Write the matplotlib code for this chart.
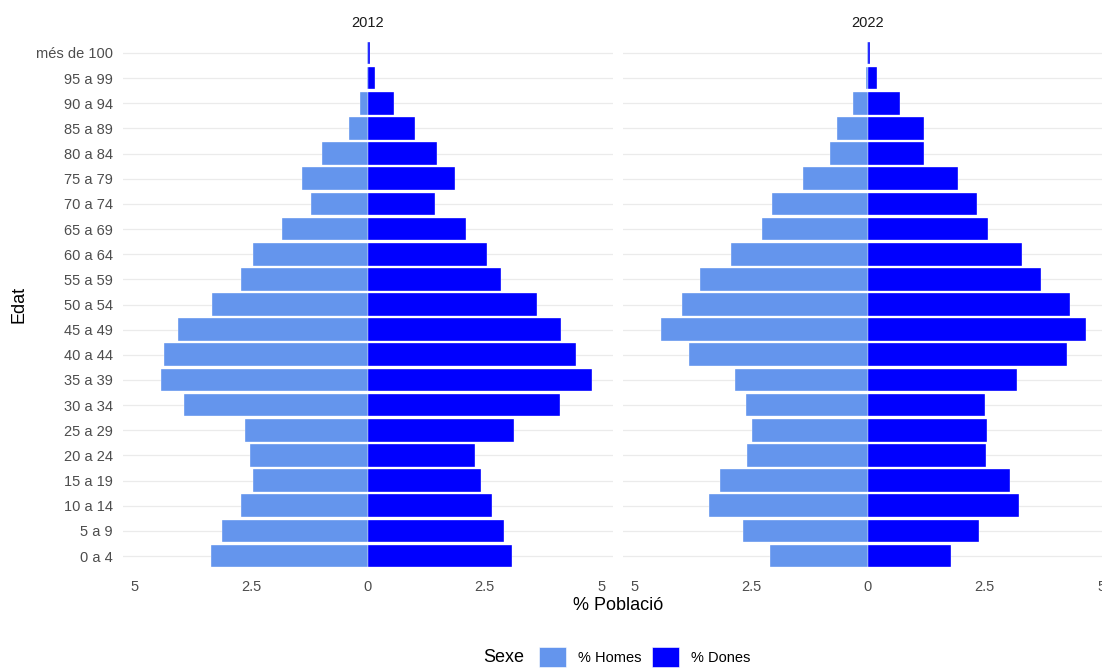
import matplotlib.pyplot as plt
from matplotlib.patches import Patch
import numpy as np

plt.rcParams['font.family'] = ['Liberation Sans', 'DejaVu Sans']

# grups d'edat, de baix a dalt
edats = ['0 a 4', '5 a 9', '10 a 14', '15 a 19', '20 a 24', '25 a 29',
         '30 a 34', '35 a 39', '40 a 44', '45 a 49', '50 a 54', '55 a 59',
         '60 a 64', '65 a 69', '70 a 74', '75 a 79', '80 a 84', '85 a 89',
         '90 a 94', '95 a 99', 'més de 100']

homes_2012 = [3.36, 3.12, 2.72, 2.46, 2.53, 2.64, 3.94, 4.42, 4.36, 4.06, 3.34,
              2.71, 2.46, 1.83, 1.21, 1.42, 0.99, 0.40, 0.16, 0.02, 0.01]
dones_2012 = [3.09, 2.91, 2.65, 2.42, 2.29, 3.12, 4.12, 4.79, 4.46, 4.13, 3.63,
              2.86, 2.56, 2.11, 1.44, 1.86, 1.49, 1.02, 0.55, 0.16, 0.05]
homes_2022 = [2.09, 2.67, 3.41, 3.16, 2.59, 2.48, 2.61, 2.84, 3.83, 4.44, 3.97,
              3.60, 2.94, 2.26, 2.06, 1.39, 0.81, 0.65, 0.32, 0.03, 0.01]
dones_2022 = [1.79, 2.39, 3.25, 3.05, 2.54, 2.56, 2.51, 3.20, 4.26, 4.67, 4.34,
              3.72, 3.31, 2.58, 2.34, 1.94, 1.21, 1.21, 0.69, 0.20, 0.05]

anys = ['2012', '2022']
ticks = [-5, -2.5, 0, 2.5, 5]
tick_labels = ['5', '2.5', '0', '2.5', '5']

col_homes = '#6495ED'
col_dones = '#0000FF'

W, H = 1102, 669
fig = plt.figure(figsize=(W / 100, H / 100), dpi=100)

def px(x0, y0, x1, y1):
    return [x0 / W, 1 - y1 / H, (x1 - x0) / W, (y1 - y0) / H]

ax1 = fig.add_axes(px(122.7, 37.9, 613, 571.1))
ax2 = fig.add_axes(px(622.7, 37.9, 1112.7, 571.1))

y = np.arange(len(edats))
data = [(homes_2012, dones_2012), (homes_2022, dones_2022)]

for ax, (h, d), any_ in zip([ax1, ax2], data, anys):
    ax.barh(y, -np.array(h), height=0.9, color=col_homes,
            edgecolor='white', linewidth=0.25, zorder=2)
    ax.barh(y, d, height=0.9, color=col_dones,
            edgecolor='white', linewidth=0.25, zorder=2)
    ax.set_xlim(-5.25, 5.25)
    ax.set_ylim(-0.6, len(edats) - 0.4)
    ax.set_xticks(ticks)
    ax.set_xticklabels(tick_labels)
    ax.set_yticks(y)
    ax.set_yticklabels(edats)
    ax.grid(axis='y', color='#EBEBEB', linewidth=0.9, zorder=0)
    ax.set_axisbelow(True)
    for s in ax.spines.values():
        s.set_visible(False)
    ax.tick_params(length=0, labelsize=10.5, labelcolor='#4D4D4D')
    ax.tick_params(axis='x', pad=6.5)
    ax.tick_params(axis='y', pad=7)
    pos = ax.get_position()
    fig.text(pos.x0 + pos.width / 2, 1 - 23 / H, any_, ha='center',
             va='center', fontsize=10.5, color='#1A1A1A')

ax2.tick_params(axis='y', labelleft=False)

fig.text(617.7 / W, 1 - 606 / H, '% Població', ha='center', va='center',
         fontsize=13)
fig.text(19 / W, 1 - 304 / H, 'Edat', ha='center', va='center',
         fontsize=13, rotation=90)

# llegenda
fig.text(483 / W, 1 - 657 / H, 'Sexe', ha='left', va='center', fontsize=13)
handles = [Patch(facecolor=col_homes, edgecolor='white', linewidth=0.4),
           Patch(facecolor=col_dones, edgecolor='white', linewidth=0.4)]
fig.legend(handles, ['% Homes', '% Dones'], ncol=2, loc='center',
           bbox_to_anchor=(644.5 / W, 1 - 657 / H), frameon=False,
           fontsize=10.5, handlelength=1.9, handleheight=1.7,
           handletextpad=0.8, columnspacing=0.7, borderpad=0,
           borderaxespad=0)

fig.savefig('out.png', dpi=100)
